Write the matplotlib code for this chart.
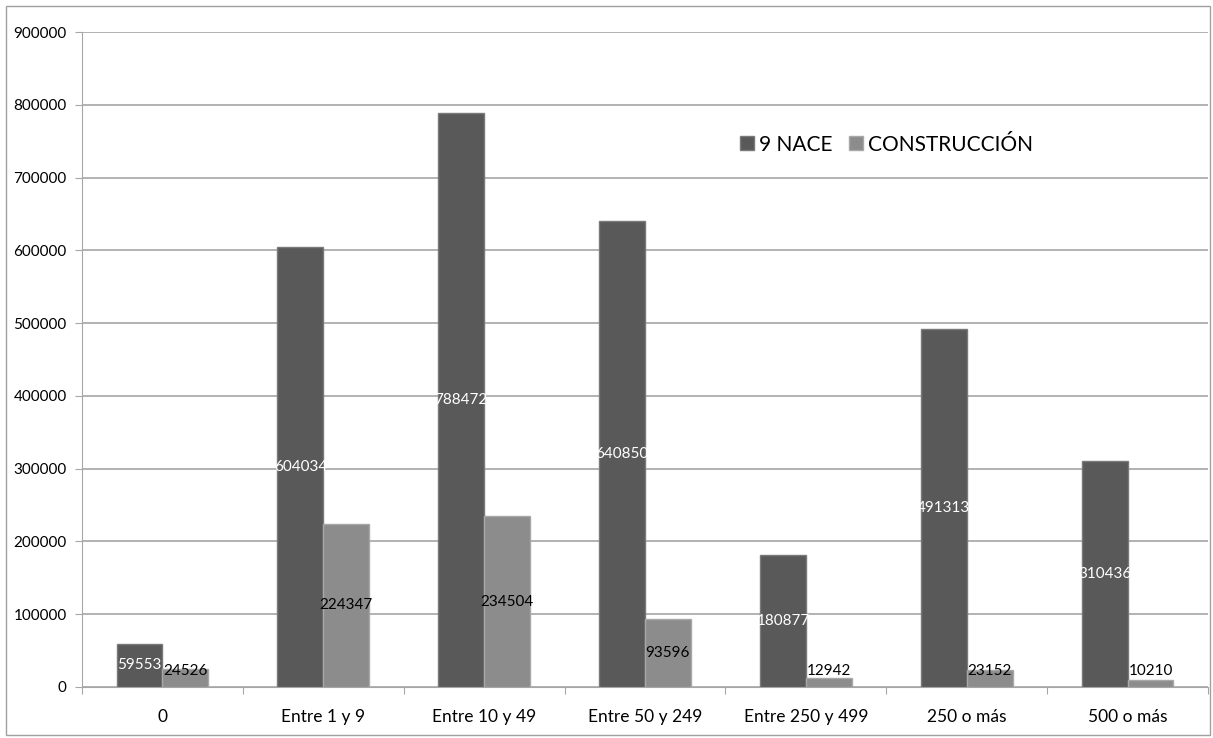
import matplotlib
matplotlib.use("Agg")
import matplotlib.pyplot as plt
from matplotlib.patches import Rectangle
import numpy as np

plt.rcParams['font.family'] = ['Lato', 'DejaVu Sans']

categories = ["0", "Entre 1 y 9", "Entre 10 y 49", "Entre 50 y 249",
              "Entre 250 y 499", "250 o más", "500 o más"]
nace = [59553, 604034, 788472, 640850, 180877, 491313, 310436]
construccion = [24526, 224347, 234504, 93596, 12942, 23152, 10210]

dark = "#595959"
light = "#8c8c8c"

fig = plt.figure(figsize=(12.13, 7.38), dpi=100)
ax = fig.add_axes([82 / 1213, 1 - 687 / 738, 1126 / 1213, 655 / 738])

x = np.arange(len(categories))
w = 0.285
b1 = ax.bar(x - w / 2, nace, w, color=dark, edgecolor="#7a7a7a", linewidth=1.0,
            label="9 NACE", zorder=3)
b2 = ax.bar(x + w / 2, construccion, w, color=light, edgecolor="#a8a8a8", linewidth=1.0,
            label="CONSTRUCCIÓN", zorder=3)

# data labels, roughly in the middle of each bar
for xi, v in zip(x, nace):
    ax.text(xi - w / 2, max(v / 2, 20000), str(v), ha="center", va="center",
            color="white", fontsize=11, zorder=4)
for xi, v in zip(x, construccion):
    ax.text(xi + w / 2, max(v / 2, 22000), str(v), ha="center", va="center",
            color="black", fontsize=11, zorder=4)

ax.set_ylim(0, 900000)
ax.set_yticks(np.arange(0, 900001, 100000))
ax.yaxis.grid(True, color="#a6a6a6", linewidth=1.2, zorder=0)
ax.set_xlim(-0.5, len(categories) - 0.5)
ax.set_xticks(np.arange(-0.5, len(categories), 1.0))
ax.set_xticklabels([])
ax.set_xticks(x, minor=True)
ax.set_xticklabels(categories, minor=True, fontsize=12.5)
ax.tick_params(axis="x", which="minor", length=0, pad=16)
ax.tick_params(axis="x", which="major", length=5, color="#a6a6a6")
ax.tick_params(axis="y", length=5, color="#a6a6a6", labelsize=11, pad=6)

for s in ["top", "right"]:
    ax.spines[s].set_visible(False)
ax.spines["left"].set_color("#a6a6a6")
ax.spines["bottom"].set_color("#a6a6a6")

ax.legend(loc="upper left", bbox_to_anchor=(0.568, 0.872), frameon=False,
          ncol=2, fontsize=15, handlelength=0.65, handleheight=0.65,
          handletextpad=0.25, columnspacing=0.8)

fig.patches.append(Rectangle((6 / 1213, 3 / 738), 1204 / 1213, 729 / 738,
                             transform=fig.transFigure, fill=False,
                             edgecolor="#a0a0a0", linewidth=1))

fig.savefig("out.png", dpi=100)
